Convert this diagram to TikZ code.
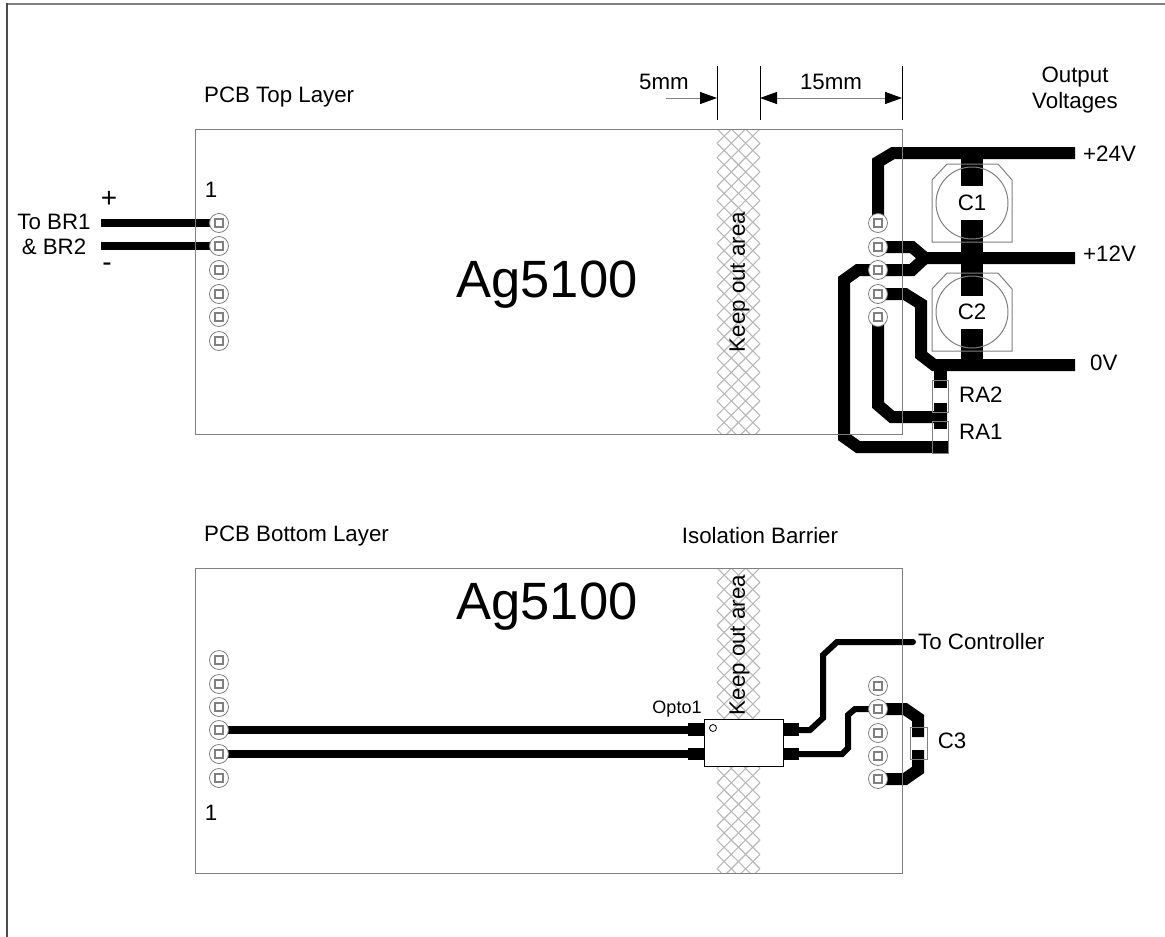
\documentclass[tikz,border=0pt]{standalone}
\usepackage{fontspec}
\setmainfont{Liberation Sans}
\usetikzlibrary{positioning}
\usetikzlibrary{backgrounds}
\usetikzlibrary{arrows.meta}
\definecolor{edgegrey}{gray}{0.5}
\definecolor{hatchgrey}{gray}{0.72}
\tikzset{%
  lbl/.style = {inner sep=0pt,font=\fontsize{22.3}{24}\selectfont},
  sign/.style = {inner sep=0pt,font=\fontsize{28}{30}\selectfont},
  big/.style = {inner sep=0pt,font=\fontsize{52.5}{56}\selectfont},
  small/.style = {inner sep=0pt,font=\fontsize{18}{20}\selectfont},
  board/.style = {draw=edgegrey,line width=1pt},
  part/.style = {draw=edgegrey,line width=1pt},
  trace/.style = {draw=black,line width=12pt,line join=miter},
  wire/.style = {draw=black,line width=8pt},
  thin trace/.style = {draw=black,line width=6pt},
  smdpad/.style = {fill=black},
  dim/.style = {draw=edgegrey,line width=1pt,{Triangle[length=17pt,width=12pt,fill=black,color=black]}-{Triangle[length=17pt,width=12pt,fill=black,color=black]}},
  dimr/.style = {draw=edgegrey,line width=1pt,-{Triangle[length=17pt,width=12pt,fill=black,color=black]}},
  pad/.style = {circle,draw=edgegrey,fill=white,line width=0.8pt,minimum size=19pt,inner sep=0pt,
        path picture={\draw[edgegrey,line width=2.4pt] (-4,-4) rectangle (4,4);}}
}
\newcommand{\keepout}[2]{%
  \begin{scope}
    \clip (716,#1) rectangle (761,#2);
    \foreach \d in {-57.32,-43,...,365}{
      \draw[hatchgrey,line width=1.1pt] (717,#1+\d) -- ++(43,43);
      \draw[hatchgrey,line width=1.1pt] (717,#1+\d) -- ++(43,-43);
    }
  \end{scope}}
\newcommand{\capoutline}[2]{%
  \draw[part] (932,#1+16) -- (947,#1) -- (998,#1) -- (1012,#1+16) -- (1012,#1+78) -- (932,#1+78) -- cycle;
  \draw[part] (972,#1+39) circle (36);
  \node[lbl] (#2) at (972,#1+39) {#2};}

\begin{document}
\begin{tikzpicture}[x=1pt,y=-1pt]
    \useasboundingbox (0,0) rectangle (1165,937);
    % frame
    \draw[edgegrey,line width=2pt] (7,3.5) -- (1165,3.5);
    \draw[edgegrey!60!black,line width=1.5pt] (7,937) -- (7,3);

    % pads
    \foreach \n/\y in {1/223,2/246,3/270,4/294,5/317,6/341}
        \node[pad] (tl\n) at (219,\y) {};
    \foreach \n/\y in {1/223,2/247,3/270,4/294,5/317}
        \node[pad] (tr\n) at (878,\y) {};
    \foreach \n/\y in {1/660,2/684,3/707,4/730,5/754,6/778}
        \node[pad] (bl\n) at (219,\y) {};
    \foreach \n/\y in {1/686,2/709,3/733,4/756,5/779}
        \node[pad] (br\n) at (878,\y) {};

    % free ends
    \coordinate (v24) at (1075,153);
    \coordinate (v12) at (1075,258);
    \coordinate (v0) at (1075,365);
    \coordinate (brp) at (101,223);
    \coordinate (brn) at (101,246);
    \coordinate (ctrl) at (913,642);

    \begin{scope}[on background layer]
        \keepout{129}{434}
        \keepout{568}{873}
        % top layer
        \draw[trace] (tr1.center) -- (878,162) -- (893,153) -- (v24);
        \draw[trace] (tr2.center) -- (912,247) -- (925,258) -- (v12);
        \draw[trace] (tr3.center) -- (912,270) -- (925,258);
        \draw[trace] (tr3.center) -- (858,270) -- (844,280) -- (844,437) -- (858,447) -- (948,447);
        \draw[trace] (tr4.center) -- (905,294) -- (921,304) -- (921,355) -- (934,365) -- (v0);
        \draw[trace] (tr5.center) -- (878,405) -- (892,417) -- (947,417);
        \fill[smdpad] (961,147) rectangle (983,186);
        \fill[smdpad] (961,220) rectangle (983,296);
        \fill[smdpad] (961,329) rectangle (983,365);
        \fill[smdpad] (934,365) rectangle (947,388);
        \fill[smdpad] (934,403) rectangle (947,429);
        \draw[wire] (brp) -- (tl1.center);
        \draw[wire] (brn) -- (tl2.center);
        % bottom layer
        \draw[wire] (bl4.center) -- (690,730);
        \draw[wire] (bl5.center) -- (690,754);
        \draw[thin trace] (783,730) -- (810,730) -- (823,718) -- (823,655) -- (837,642) -- (ctrl);
        \fill[black] (ctrl) circle (3);
        \draw[thin trace] (783,754) -- (842,754) -- (848,748) -- (848,715) -- (855,709) -- (br2.center);
        \draw[trace] (br2.center) -- (905,709) -- (918,718) -- (918,737);
        \draw[trace] (br5.center) -- (905,779) -- (918,770) -- (918,750);
        \fill[smdpad] (688,723) rectangle (704,736);
        \fill[smdpad] (688,748) rectangle (704,760);
        \fill[smdpad] (783,723) rectangle (799,736);
        \fill[smdpad] (783,748) rectangle (799,760);
    \end{scope}

    % boards
    \draw[board] (195,129) rectangle (902,434);
    \draw[board] (195,568) rectangle (902,873);

    % dimensions
    \foreach \x in {717,760,902}
        \draw[black,line width=0.8pt] (\x,66) -- (\x,120);
    \coordinate (dima) at (666,98);
    \coordinate (dimb) at (717,98);
    \coordinate (dimc) at (760,98);
    \coordinate (dimd) at (902,98);
    \draw[dimr] (dima) -- (dimb);
    \draw[dim] (dimc) -- (dimd);

    % parts
    \capoutline{164}{C1}
    \capoutline{273}{C2}
    \draw[part] (932,380) rectangle (948,412);
    \draw[part] (932,421) rectangle (948,453);
    \draw[part] (910,727) rectangle (927,759);
    \node[draw=black,fill=white,line width=1pt,minimum width=79pt,minimum height=47pt,inner sep=0pt] (opto) at (743.5,742.5) {};
    \draw[black,line width=0.8pt,fill=white] (713,728) circle (3.5);

    % labels
    \node[lbl,anchor=west] (toplbl) at (204,97) {PCB Top Layer};
    \node[lbl,anchor=west] (botlbl) at (204,536) {PCB Bottom Layer};
    \node[lbl] (iso) at (760,536) {Isolation Barrier};
    \node[lbl] (dim5) at (664,82) {5mm};
    \node[lbl] (dim15) at (831,82) {15mm};
    \node[lbl] (outa) at (1075,77) {Output};
    \node[lbl] (outb) at (1075,103) {Voltages};
    \node[lbl,anchor=west] (l24) at (1083,154) {+24V};
    \node[lbl,anchor=west] (l12) at (1083,254) {+12V};
    \node[lbl,anchor=west] (l0) at (1090,363) {0V};
    \node[lbl,anchor=west] (ra2) at (959,395) {RA2};
    \node[lbl,anchor=west] (ra1) at (959,432) {RA1};
    \node[lbl] (c3) at (952,741) {C3};
    \node[lbl,anchor=west] (tctrl) at (918,642) {To Controller};
    \node[lbl] (tbr1) at (54,222) {To BR1};
    \node[lbl] (tbr2) at (54,247) {\& BR2};
    \node[sign] (plus) at (109,199) {+};
    \node[sign] (minus) at (107,267) {-};
    \node[lbl] (pin1t) at (211,190) {1};
    \node[lbl] (pin1b) at (211,813) {1};
    \node[small] (optol) at (677,709) {Opto1};
    \node[big] (agt) at (547,284.5) {Ag5100};
    \node[big] (agb) at (547,606.5) {Ag5100};
    \node[lbl,rotate=90] (kot) at (739.5,282) {Keep out area};
    \node[lbl,rotate=90] (kob) at (739.5,645) {Keep out area};
\end{tikzpicture}
\end{document}
